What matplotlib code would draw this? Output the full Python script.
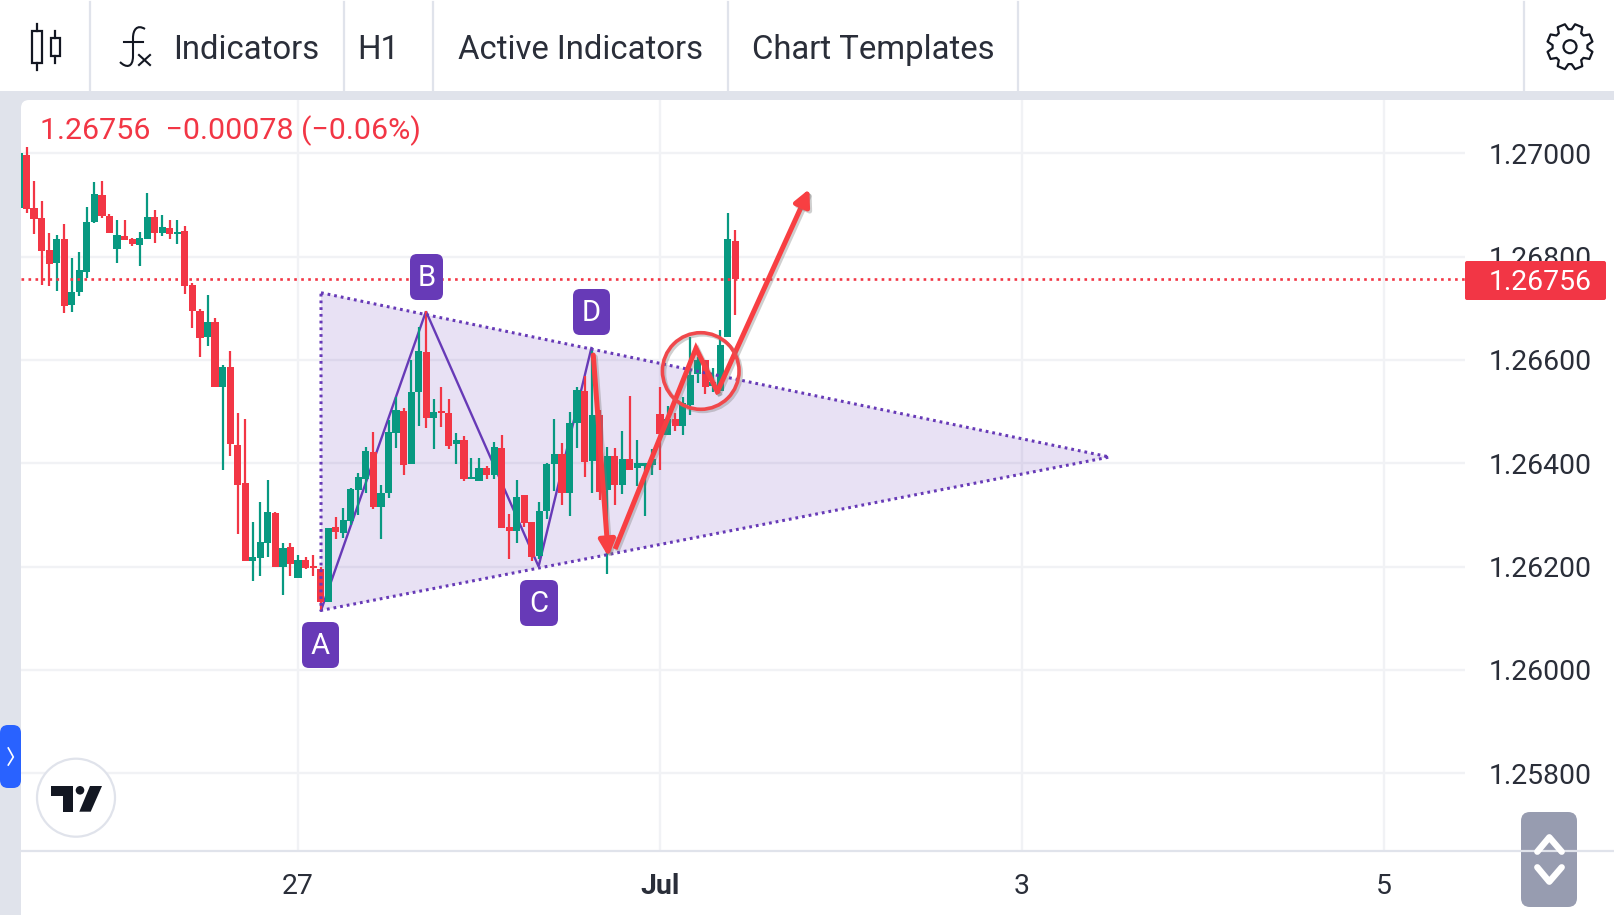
import numpy as np
import matplotlib
matplotlib.use("Agg")
import matplotlib.pyplot as plt
from matplotlib.patches import Rectangle, FancyBboxPatch, Circle, Polygon, PathPatch, Ellipse
from matplotlib.path import Path
import matplotlib.patheffects as pe

plt.rcParams["font.family"] = "Roboto"

W, H = 1614, 915
UP = "#089981"
DOWN = "#f23645"
ARROW = "#f83f42"
PURPLE = "#673ab7"
BORDER = "#e0e3eb"
GRID = "#f1f2f5"
TEXT = "#2a2e39"
DARK = "#131722"

# hourly candles, first bar is 37 hours before the 27th
opens = [1.26894, 1.26997, 1.26895, 1.26874, 1.26813, 1.26788, 1.26834, 1.26707, 1.26732, 1.26770,
         1.26867, 1.26919, 1.26879, 1.26814, 1.26840, 1.26835, 1.26823, 1.26835, 1.26876, 1.26845,
         1.26856, 1.26844, 1.26849, 1.26745, 1.26695, 1.26645, 1.26674, 1.26548, 1.26586, 1.26435,
         1.26361, 1.26210, 1.26217, 1.26246, 1.26304, 1.26200, 1.26237, 1.26178, 1.26213, 1.26201,
         1.26196, 1.26132, 1.26277, 1.26264, 1.26289, 1.26348, 1.26369, 1.26422, 1.26316, 1.26342,
         1.26459, 1.26502, 1.26398, 1.26537, 1.26615, 1.26487, 1.26501, 1.26497, 1.26437, 1.26444,
         1.26369, 1.26366, 1.26390, 1.26377, 1.26429, 1.26276, 1.26269, 1.26338, 1.26286, 1.26221,
         1.26308, 1.26399, 1.26417, 1.26342, 1.26477, 1.26540, 1.26405, 1.26494, 1.26348, 1.26413,
         1.26358, 1.26409, 1.26390, 1.26394, 1.26397, 1.26495, 1.26455, 1.26485, 1.26472, 1.26513,
         1.26573, 1.26599, 1.26550, 1.26539, 1.26644, 1.26831]
highs = [1.27000, 1.27013, 1.26947, 1.26908, 1.26845, 1.26842, 1.26863, 1.26797, 1.26808, 1.26897,
         1.26945, 1.26947, 1.26883, 1.26870, 1.26870, 1.26836, 1.26848, 1.26923, 1.26890, 1.26881,
         1.26870, 1.26870, 1.26860, 1.26748, 1.26699, 1.26726, 1.26681, 1.26590, 1.26617, 1.26497,
         1.26486, 1.26286, 1.26324, 1.26368, 1.26306, 1.26245, 1.26245, 1.26222, 1.26218, 1.26222,
         1.26199, 1.26275, 1.26295, 1.26313, 1.26352, 1.26381, 1.26431, 1.26461, 1.26358, 1.26484,
         1.26528, 1.26506, 1.26600, 1.26663, 1.26694, 1.26524, 1.26548, 1.26524, 1.26458, 1.26452,
         1.26411, 1.26411, 1.26394, 1.26441, 1.26454, 1.26301, 1.26368, 1.26338, 1.26287, 1.26324,
         1.26401, 1.26485, 1.26439, 1.26499, 1.26548, 1.26569, 1.26623, 1.26503, 1.26431, 1.26429,
         1.26463, 1.26531, 1.26445, 1.26401, 1.26427, 1.26547, 1.26511, 1.26497, 1.26529, 1.26645,
         1.26606, 1.26600, 1.26584, 1.26658, 1.26884, 1.26852]
lows = [1.26874, 1.26884, 1.26843, 1.26745, 1.26743, 1.26734, 1.26690, 1.26693, 1.26724, 1.26759,
        1.26866, 1.26875, 1.26845, 1.26788, 1.26832, 1.26821, 1.26782, 1.26835, 1.26827, 1.26839,
        1.26834, 1.26825, 1.26728, 1.26661, 1.26606, 1.26627, 1.26548, 1.26387, 1.26414, 1.26262,
        1.26210, 1.26171, 1.26181, 1.26219, 1.26200, 1.26144, 1.26181, 1.26178, 1.26196, 1.26181,
        1.26116, 1.26132, 1.26253, 1.26255, 1.26281, 1.26300, 1.26342, 1.26311, 1.26253, 1.26332,
        1.26430, 1.26377, 1.26398, 1.26473, 1.26469, 1.26428, 1.26471, 1.26428, 1.26398, 1.26366,
        1.26369, 1.26366, 1.26369, 1.26369, 1.26275, 1.26214, 1.26245, 1.26276, 1.26210, 1.26214,
        1.26292, 1.26347, 1.26319, 1.26298, 1.26430, 1.26373, 1.26342, 1.26328, 1.26185, 1.26319,
        1.26341, 1.26387, 1.26355, 1.26298, 1.26377, 1.26387, 1.26455, 1.26463, 1.26455, 1.26494,
        1.26555, 1.26534, 1.26537, 1.26539, 1.26644, 1.26686]
closes = [1.27000, 1.26892, 1.26873, 1.26810, 1.26786, 1.26834, 1.26705, 1.26731, 1.26774, 1.26867,
          1.26922, 1.26879, 1.26845, 1.26842, 1.26832, 1.26825, 1.26836, 1.26876, 1.26845, 1.26858,
          1.26843, 1.26848, 1.26743, 1.26694, 1.26643, 1.26674, 1.26548, 1.26586, 1.26437, 1.26357,
          1.26211, 1.26219, 1.26247, 1.26306, 1.26200, 1.26235, 1.26205, 1.26213, 1.26197, 1.26197,
          1.26132, 1.26275, 1.26266, 1.26290, 1.26350, 1.26373, 1.26424, 1.26316, 1.26343, 1.26460,
          1.26503, 1.26397, 1.26537, 1.26617, 1.26487, 1.26499, 1.26498, 1.26434, 1.26444, 1.26370,
          1.26373, 1.26390, 1.26378, 1.26431, 1.26275, 1.26269, 1.26335, 1.26285, 1.26218, 1.26308,
          1.26399, 1.26417, 1.26342, 1.26477, 1.26542, 1.26403, 1.26493, 1.26345, 1.26413, 1.26358,
          1.26408, 1.26387, 1.26400, 1.26401, 1.26408, 1.26457, 1.26485, 1.26472, 1.26516, 1.26571,
          1.26600, 1.26548, 1.26558, 1.26629, 1.26834, 1.26756]

last_price = 1.26756
price_ticks = [1.27, 1.268, 1.266, 1.264, 1.262, 1.26, 1.258]
price_labels = ["1.27000", "1.26800", "1.26600", "1.26400", "1.26200", "1.26000", "1.25800"]
date_ticks = [0, 48, 96, 144]
date_labels = ["27", "Jul", "3", "5"]

# drawing tools on the chart
triangle_x = [3.05, 107.6, 3.05]
triangle_y = [1.26730, 1.26412, 1.26115]
abcd_x = [3.05, 16.97, 31.9, 38.9]
abcd_y = [1.26115, 1.26694, 1.26200, 1.26623]
drop_x = [39.15, 41.15]
drop_y = [1.266095, 1.26219]
rise_x = [42.17, 52.77, 55.6, 67.8]
rise_y = [1.262383, 1.266225, 1.265384, 1.269309]

fig = plt.figure(figsize=(W / 100, H / 100), dpi=100, facecolor=BORDER)


def pixel_axes(zorder):
    a = fig.add_axes([0, 0, 1, 1], zorder=zorder)
    a.set_xlim(0, W)
    a.set_ylim(H, 0)
    a.axis("off")
    return a


# page background
bg = pixel_axes(0)
bg.add_patch(FancyBboxPatch((21, 100), W, H, boxstyle="round,pad=0,rounding_size=8", fc="white", ec="none"))
bg.add_patch(Rectangle((0, 0), W, 91, fc="white", ec="none"))
for sx in [90, 344, 433, 728, 1018, 1524]:
    bg.plot([sx, sx], [2, 91], color=BORDER, lw=1.6)

# chart
ax = fig.add_axes([21 / W, 1 - 851 / H, 1444 / W, 751 / H], zorder=1)
ax.patch.set_alpha(0)
ax.set_xlim(-36.73, 154.74)
ax.set_ylim(1.256492, 1.271032)
for s in ax.spines.values():
    s.set_visible(False)
ax.set_axisbelow(True)
ax.grid(True, color=GRID, lw=1.7)
ax.yaxis.tick_right()
ax.set_yticks(price_ticks)
ax.set_yticklabels(price_labels, fontsize=20.4, color=TEXT)
ax.set_xticks(date_ticks)
ax.set_xticklabels(date_labels, fontsize=20.4, color=TEXT)
ax.get_xticklabels()[1].set_fontweight("bold")
ax.tick_params(axis="y", length=0, pad=17)
ax.tick_params(axis="x", length=0, pad=15.5)

ax.fill(triangle_x, triangle_y, color=PURPLE, alpha=0.15, lw=0, zorder=1)
ax.plot(abcd_x, abcd_y, color=PURPLE, lw=1.7, solid_joinstyle="miter", zorder=1.5)

hours = np.arange(len(opens)) - 37
o, h, l, c = map(np.array, (opens, highs, lows, closes))
colors = np.where(c >= o, UP, DOWN)
ax.vlines(hours, l, h, colors=colors, lw=1.6, zorder=2)
ax.bar(hours, np.abs(c - o), bottom=np.minimum(o, c), width=0.95, color=colors, lw=0, zorder=3)

ax.axhline(last_price, color=DOWN, lw=1.9, ls=(0, (1, 1.65)), zorder=4)
closed_x = triangle_x + triangle_x[:1]
closed_y = triangle_y + triangle_y[:1]
ax.plot(closed_x, closed_y, color=PURPLE, lw=2.2, ls=(0, (0.9, 1.3)), zorder=4)

shadow = [pe.SimpleLineShadow(offset=(1.5, -1.5), shadow_color="#777777", alpha=0.35), pe.Normal()]
head = dict(arrowstyle="-|>,head_length=0.6,head_width=0.3", color=ARROW, lw=3.6, shrinkA=0, shrinkB=0,
            mutation_scale=16, path_effects=shadow)
ax.annotate("", xy=(drop_x[1], drop_y[1]), xytext=(drop_x[0], drop_y[0]), arrowprops=head, zorder=5)
ax.plot(rise_x[:3], rise_y[:3], color=ARROW, lw=3.6, solid_joinstyle="miter", path_effects=shadow, zorder=5)
ax.annotate("", xy=(rise_x[3], rise_y[3]), xytext=(rise_x[2], rise_y[2]), arrowprops=head, zorder=5)
ax.add_patch(Ellipse((53.4, 1.265785), 10.16, 0.001483, fc="none", ec="#f0484b", lw=2.6, zorder=5,
                     path_effects=shadow))

# everything on top of the chart
ui = pixel_axes(2)
ui.patch.set_alpha(0)
ui.plot([21, W], [851, 851], color=BORDER, lw=1.6)

ui.text(40, 131, "1.26756  \u22120.00078 (\u22120.06%)", color=DOWN, fontsize=21.9, va="center")
ui.add_patch(FancyBboxPatch((1465, 261), 141, 39, boxstyle="round,pad=0,rounding_size=2", fc=DOWN, ec="none"))
ui.text(1489, 283, "1.26756", color="white", fontsize=20.4, va="center")

for name, x0, x1, y0, y1 in [("A", 302, 339, 622, 668), ("B", 410, 443, 254, 300),
                             ("C", 520, 558, 580, 626), ("D", 573, 610, 289, 335)]:
    ui.add_patch(FancyBboxPatch((x0, y0), x1 - x0, y1 - y0, boxstyle="round,pad=0,rounding_size=7",
                                fc=PURPLE, ec="none"))
    ui.text((x0 + x1) / 2, (y0 + y1) / 2 + 1, name, color="white", fontsize=21, ha="center", va="center")

# toolbar
for label, tx in [("Indicators", 173.5), ("H1", 357), ("Active Indicators", 458), ("Chart Templates", 752)]:
    ui.text(tx, 50, label, color=TEXT, fontsize=23.7, va="center")

ui.add_patch(Rectangle((31.7, 30.7), 10, 32, fc="none", ec=DARK, lw=1.6))
ui.plot([36.7, 36.7], [24, 30.7], color=DARK, lw=1.6)
ui.plot([36.7, 36.7], [62.7, 70], color=DARK, lw=1.6)
ui.add_patch(Rectangle((50.7, 38), 9.3, 18, fc="none", ec=DARK, lw=1.6))
ui.plot([55.3, 55.3], [31, 38], color=DARK, lw=1.6)
ui.plot([55.3, 55.3], [56, 62.5], color=DARK, lw=1.6)

fx = Path([(145, 29), (137, 24), (133, 30), (133, 38), (133, 56), (133, 68), (126, 68), (120, 62)],
          [Path.MOVETO, Path.CURVE4, Path.CURVE4, Path.CURVE4, Path.LINETO, Path.CURVE4, Path.CURVE4, Path.CURVE4])
ui.add_patch(PathPatch(fx, fc="none", ec=DARK, lw=1.5))
ui.plot([124, 143], [41.7, 41.7], color=DARK, lw=1.5)
ui.plot([139, 150], [55, 65], color=DARK, lw=1.5)
ui.plot([150, 139], [55, 65], color=DARK, lw=1.5)

# gear
angles = np.linspace(0, 2 * np.pi, 8, endpoint=False) + np.pi / 8
gear = []
for a in angles:
    for da, r in [(-0.30, 17.5), (-0.17, 23), (0.17, 23), (0.30, 17.5)]:
        gear.append((1570 + r * np.cos(a + da), 46.7 + r * np.sin(a + da)))
ui.add_patch(Polygon(gear, closed=True, fc="none", ec=DARK, lw=1.6, joinstyle="round"))
ui.add_patch(Circle((1570, 46.7), 6.5, fc="none", ec=DARK, lw=1.6))

# side handle
ui.add_patch(FancyBboxPatch((0, 725), 21, 63, boxstyle="round,pad=0,rounding_size=8", fc="#2962ff", ec="none"))
ui.plot([8.3, 13.3, 8.3], [748, 757, 765], color="white", lw=1.2)

# logo
ui.add_patch(Circle((76, 797.7), 39, fc="white", ec=BORDER, lw=1.6))
ui.add_patch(Polygon([(51, 786), (72.7, 786), (72.7, 811.7), (63.3, 811.7), (63.3, 795.7), (51, 795.7)],
                     fc=DARK, ec="none"))
ui.add_patch(Circle((80, 790.3), 4.3, fc=DARK, ec="none"))
ui.add_patch(Polygon([(90, 786), (102, 786), (90.7, 811.7), (79.3, 811.7)], fc=DARK, ec="none"))

# scroll button
ui.add_patch(FancyBboxPatch((1521, 812), 56, 95, boxstyle="round,pad=0,rounding_size=9", fc="#979cb0", ec="none"))
for ys in ([851.7, 837.3, 851.7], [867.3, 881.7, 867.3]):
    ui.plot([1537.3, 1549.3, 1561.7], ys, color="white", lw=4.6, solid_capstyle="round", solid_joinstyle="round")

fig.savefig("out.png", dpi=100, facecolor=fig.get_facecolor())
